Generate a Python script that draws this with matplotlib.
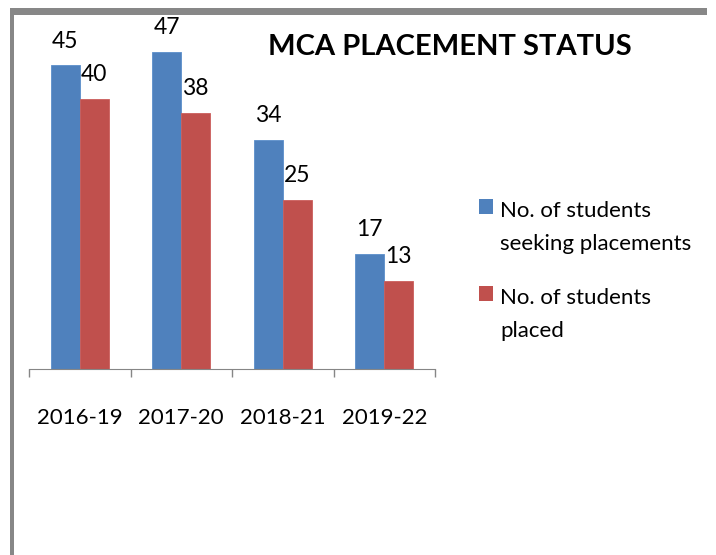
import matplotlib.pyplot as plt
from matplotlib.patches import Rectangle

years = ["2016-19", "2017-20", "2018-21", "2019-22"]
seeking = [45, 47, 34, 17]
placed = [40, 38, 25, 13]
series_names = [["No. of students", "seeking placements"], ["No. of students", "placed"]]

blue = "#4F81BD"
red = "#C0504D"
plt.rcParams['font.family'] = ['Lato', 'DejaVu Sans']

W, H = 716, 555
fig = plt.figure(figsize=(W / 100, H / 100), dpi=100)
ax = fig.add_axes([29 / W, 1 - 369 / H, 406 / W, 337.3 / H])

bw = 0.285
x = list(range(len(years)))
b1 = ax.bar([i - bw / 2 for i in x], seeking, bw, color=blue, edgecolor="#5B8ECB", linewidth=0.6)
b2 = ax.bar([i + bw / 2 for i in x], placed, bw, color=red, edgecolor="#CB5E5B", linewidth=0.6)

for bars, vals in ((b1, seeking), (b2, placed)):
    for r, v in zip(bars, vals):
        ax.annotate(str(v), (r.get_x() + r.get_width() / 2, v), xytext=(0, 10),
                    textcoords="offset points", ha="center", va="bottom", fontsize=16.5)

ax.set_xlim(-0.5, len(years) - 0.5)
ax.set_ylim(0, 50)
ax.set_yticks([])
for s in ("top", "right", "left"):
    ax.spines[s].set_visible(False)
ax.spines["bottom"].set_color("#868686")
ax.set_xticks(x)
ax.set_xticklabels(years, fontsize=16)
ax.tick_params(axis="x", which="major", length=0, pad=28)
ax.set_xticks([i - 0.5 for i in range(len(years) + 1)], minor=True)
ax.tick_params(axis="x", which="minor", length=6, color="#868686", width=1)

fig.text(450 / W, 1 - 47 / H, "MCA PLACEMENT STATUS", ha="center", va="center",
         fontsize=21, fontweight="bold")

# legend: square beside the first line of each two-line label
for k, (lines, col) in enumerate(zip(series_names, (blue, red))):
    top = 199 + k * 87
    fig.add_artist(Rectangle((479 / W, 1 - (top + 15) / H), 14 / W, 15 / H,
                             transform=fig.transFigure, color=col, lw=0))
    for j, line in enumerate(lines):
        fig.text(500 / W, 1 - (top + 18 + j * 33) / H, line, ha="left", va="baseline",
                 fontsize=16)

# gray frame on top and left
fig.add_artist(Rectangle((10 / W, 1 - 15 / H), 697 / W, 7 / H, transform=fig.transFigure,
                         color="#878787", lw=0))
fig.add_artist(Rectangle((10 / W, 0), 4 / W, 1 - 8 / H, transform=fig.transFigure,
                         color="#878787", lw=0))

fig.savefig("out.png", dpi=100)
